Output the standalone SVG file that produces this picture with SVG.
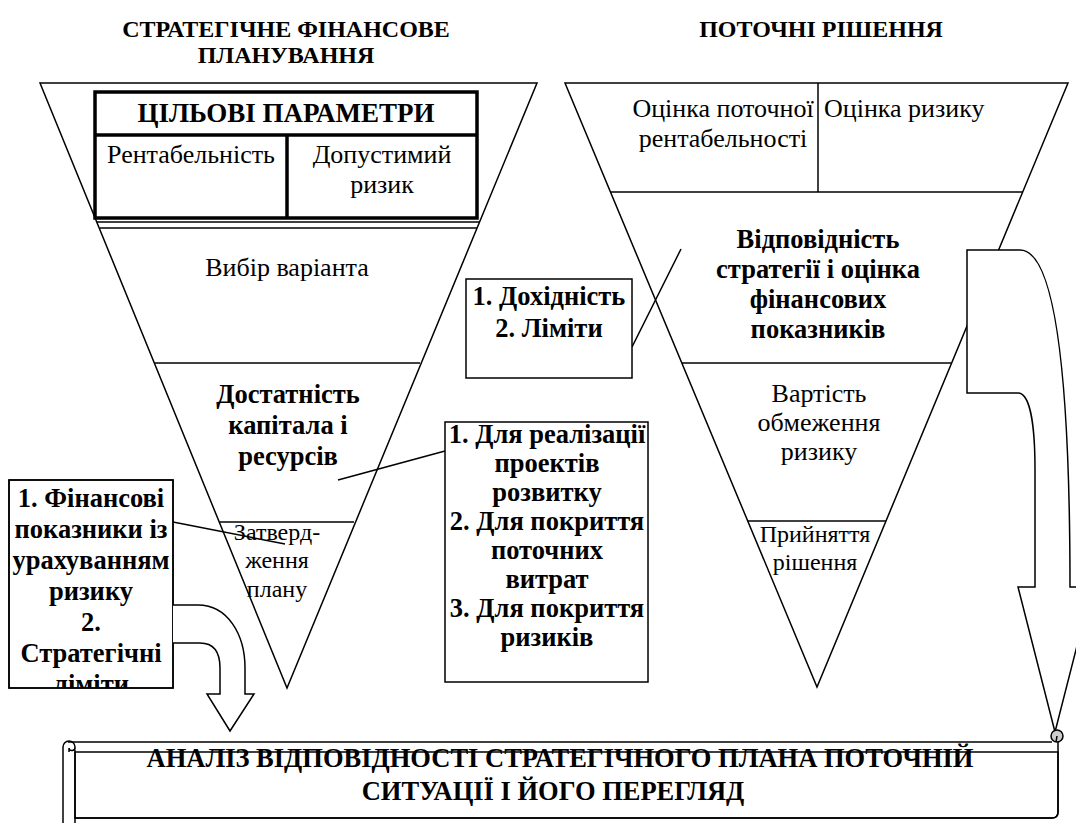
<svg xmlns="http://www.w3.org/2000/svg" width="1076" height="823" viewBox="0 0 1076 823">
<defs>
<style>
.t{font-family:"Liberation Serif","Times New Roman",serif;fill:#000;text-anchor:middle}
.r{font-size:26px}
.rs{font-size:24px}
.b{font-size:26.5px;font-weight:bold}
.ttl{font-size:24px;font-weight:bold}
.ln{stroke:#000;stroke-width:1.5;fill:none}
.sh{stroke:#000;stroke-width:1.5;fill:#fff}
.thick{stroke:#000;stroke-width:3.5;fill:#fff}
.thl{stroke:#000;stroke-width:3.5;fill:none}
</style>
<clipPath id="clipL"><rect x="9" y="480" width="164" height="208"/></clipPath>
</defs>
<rect width="1076" height="823" fill="#fff"/>

<g id="titles">
<text class="t ttl" x="286" y="37">СТРАТЕГІЧНЕ ФІНАНСОВЕ</text>
<text class="t ttl" x="286" y="63">ПЛАНУВАННЯ</text>
<text class="t ttl" x="821" y="37">ПОТОЧНІ РІШЕННЯ</text>
</g>

<g id="strategic-funnel">
<polygon class="sh" points="40,83 537,83 287,688"/>
<line class="ln" x1="97" y1="222" x2="480" y2="222"/>
<line class="ln" x1="100" y1="228" x2="477" y2="228"/>
<line class="ln" x1="155" y1="363" x2="420" y2="363"/>
<line class="ln" x1="220" y1="522" x2="354" y2="522"/>
<text class="t r" x="287" y="276">Вибір варіанта</text>
<text class="t b" x="288" y="403">Достатність</text>
<text class="t b" x="288" y="434">капітала і</text>
<text class="t b" x="288" y="465">ресурсів</text>
<text class="t rs" x="277" y="540">Затверд-</text>
<text class="t rs" x="277" y="568">ження</text>
<text class="t rs" x="277" y="597">плану</text>
</g>

<g id="target-parameters">
<rect class="thick" x="95" y="92" width="382" height="126"/>
<line class="thl" x1="95" y1="135" x2="477" y2="135"/>
<line class="thl" x1="287" y1="135" x2="287" y2="218"/>
<text class="t b" x="286" y="122" style="font-size:27px">ЦІЛЬОВІ ПАРАМЕТРИ</text>
<text class="t r" x="191" y="163">Рентабельність</text>
<text class="t r" x="382" y="163">Допустимий</text>
<text class="t r" x="382" y="193">ризик</text>
</g>

<g id="current-funnel">
<polygon class="sh" points="565,83 1068,83 817,687"/>
<line class="ln" x1="610" y1="192" x2="1023" y2="192"/>
<line class="ln" x1="818" y1="83" x2="818" y2="192"/>
<line class="ln" x1="682" y1="363" x2="951" y2="363"/>
<line class="ln" x1="748" y1="521" x2="886" y2="521"/>
<text class="t r" x="723" y="117">Оцінка поточної</text>
<text class="t r" x="723" y="147">рентабельності</text>
<text class="t r" x="824" y="117" style="text-anchor:start">Оцінка ризику</text>
<text class="t b" x="818" y="248">Відповідність</text>
<text class="t b" x="818" y="278">стратегії і оцінка</text>
<text class="t b" x="818" y="308">фінансових</text>
<text class="t b" x="818" y="338">показників</text>
<text class="t r" x="819" y="402">Вартість</text>
<text class="t r" x="819" y="431">обмеження</text>
<text class="t r" x="819" y="460">ризику</text>
<text class="t rs" x="815" y="542">Прийняття</text>
<text class="t rs" x="815" y="570">рішення</text>
</g>

<g id="connectors">
<line class="ln" x1="632" y1="347" x2="681" y2="249"/>
<line class="ln" x1="338" y1="480" x2="445" y2="451"/>
<line class="ln" x1="173" y1="522" x2="285" y2="544"/>
</g>

<g id="box-income">
<rect class="sh" x="466" y="279" width="166" height="99"/>
<text class="t b" x="549" y="305">1. Дохідність</text>
<text class="t b" x="549" y="337">2. Ліміти</text>
</g>

<g id="box-capital">
<rect class="sh" x="445" y="422" width="203" height="260"/>
<text class="t b" x="547" y="443">1. Для реалізації</text>
<text class="t b" x="547" y="472">проектів</text>
<text class="t b" x="547" y="501">розвитку</text>
<text class="t b" x="547" y="530">2. Для покриття</text>
<text class="t b" x="547" y="559">поточних</text>
<text class="t b" x="547" y="588">витрат</text>
<text class="t b" x="547" y="617">3. Для покриття</text>
<text class="t b" x="547" y="646">ризиків</text>
</g>

<g id="box-financial">
<rect class="sh" x="9" y="480" width="164" height="208"/>
<g clip-path="url(#clipL)">
<text class="t b" x="91" y="507">1. Фінансові</text>
<text class="t b" x="91" y="538">показники із</text>
<text class="t b" x="91" y="569">урахуванням</text>
<text class="t b" x="91" y="600">ризику</text>
<text class="t b" x="91" y="631">2.</text>
<text class="t b" x="91" y="662">Стратегічні</text>
<text class="t b" x="91" y="693">ліміти</text>
</g>
<rect x="9" y="480" width="164" height="208" fill="none" stroke="#000" stroke-width="1.5"/>
</g>

<g id="arrow-left">
<path class="sh" d="M173,605 L198,605 C228,605 245,635 245,668 L245,694 L254,694 L230,731 L207,694 L220,694 L220,668 C220,652 214,643 200,643 L173,643"/>
</g>

<g id="arrow-right">
<path class="sh" d="M967,250 L1020,250 C1056,250 1070,380 1070,587 L1092,587 L1055,732 L1018,587 L1035,587 L1035,470 C1035,425 1030,393 1018,393 L967,393 Z"/>
</g>

<g id="review-scroll">
<path class="sh" d="M75,752 L1058,752 L1058,812 Q1058,818 1052,818 L75,818 Z" stroke="none"/>
<path class="ln" d="M68,742 L1052,742"/>
<path class="ln" d="M75,818 L1052,818 Q1058,818 1058,812 L1058,740"/>
<path class="ln" d="M63,747 L63,823"/>
<path class="ln" d="M75,750 L75,823"/>
<path class="ln" d="M63,747 A6,6 0 0 1 75,747 A3,3 0 0 1 69,748 L69,752"/>
<circle cx="1057" cy="736" r="6" fill="#ccc" stroke="#000" stroke-width="1.5"/>
<path class="ln" d="M1057,736 L1056,742"/>
<text class="t b" x="560" y="767">АНАЛІЗ ВІДПОВІДНОСТІ СТРАТЕГІЧНОГО ПЛАНА ПОТОЧНІЙ</text>
<text class="t b" x="553" y="800">СИТУАЦІЇ І ЙОГО ПЕРЕГЛЯД</text>
</g>
</svg>
